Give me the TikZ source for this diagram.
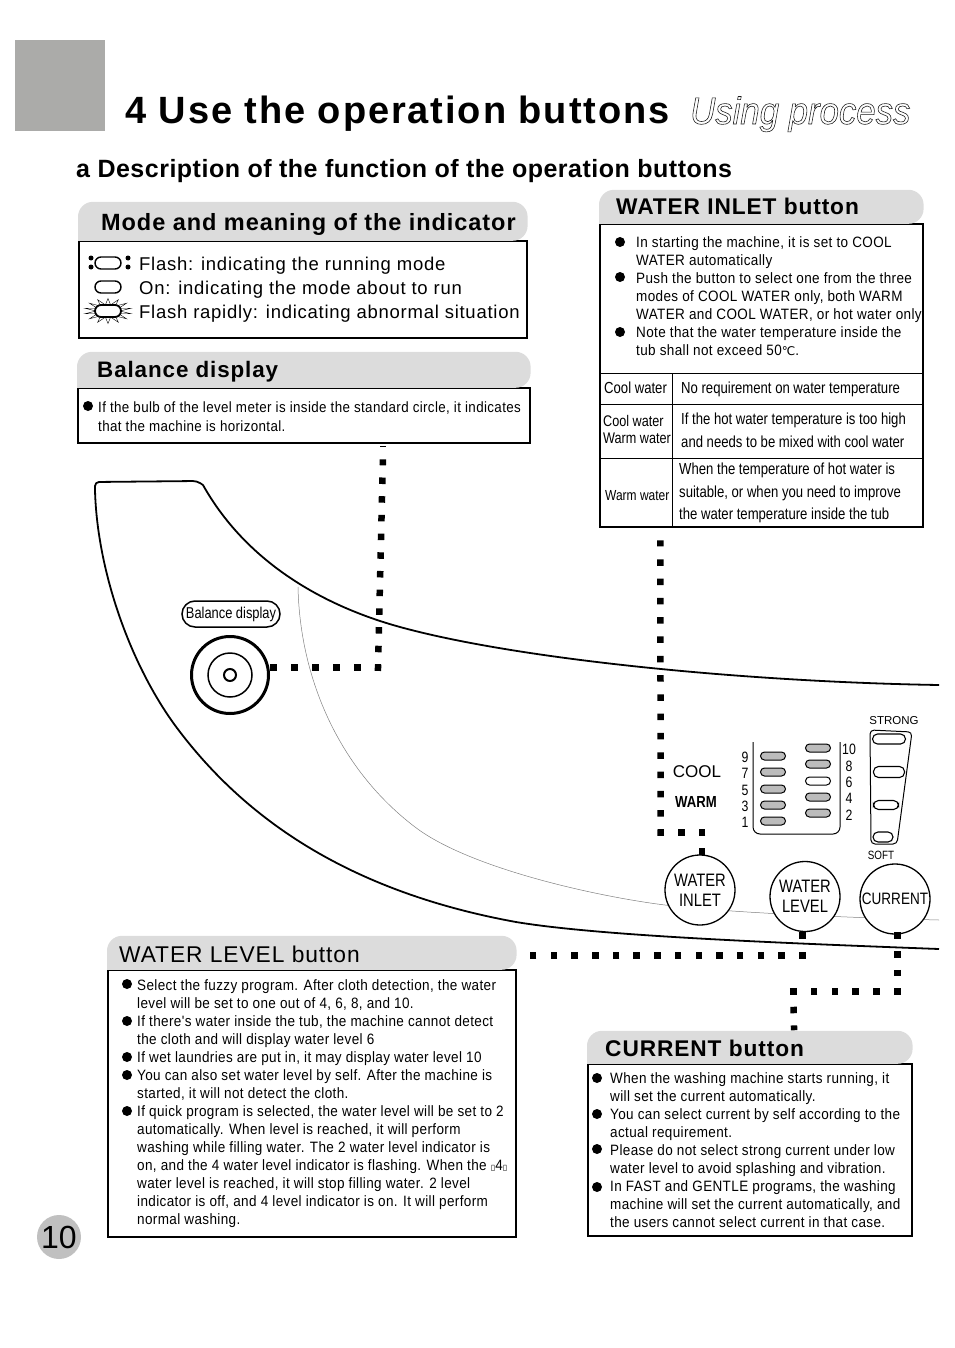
\documentclass[tikz,border=0pt]{standalone}
\usepackage{fontspec}
\setmainfont{Liberation Sans}
\newfontfamily\widefont[LetterSpace=4]{Liberation Sans}
\newfontfamily\titlefont[LetterSpace=5]{Liberation Sans}
\newfontfamily\subfont[LetterSpace=2]{Liberation Sans}
\newfontfamily\bodyfont[FakeStretch=0.9,LetterSpace=2.5]{Liberation Sans}
\newfontfamily\narrowfont[FakeStretch=0.82]{Liberation Sans}
\newfontfamily\ghostfont[FakeStretch=0.915,FakeBold=1.5]{Liberation Sans}
\newfontfamily\symfont{DejaVu Sans}
\usetikzlibrary{positioning,calc,shapes.geometric}
\definecolor{tabgray}{RGB}{220,220,220}
\definecolor{markgray}{RGB}{171,171,169}
\definecolor{pagegray}{RGB}{192,192,192}
\definecolor{pillgray}{RGB}{188,188,188}

\begin{document}
\begin{tikzpicture}[
  x=1pt, y=-1pt,
  panel/.style={draw, line width=1.6pt, anchor=north west, inner sep=0pt},
  txt/.style={inner sep=0pt, anchor=north west, align=left},
  headtxt/.style={inner sep=0pt, anchor=base west, font=\widefont\bfseries\fontsize{22.7}{26}\selectfont},
  bodytxt/.style={txt, font=\bodyfont\fontsize{15}{18.05}\selectfont},
  celltxt/.style={txt, font=\narrowfont\fontsize{16}{22.4}\selectfont},
  dotlink/.style={line width=6.5pt, dash pattern=on 6.5pt off #1pt, shorten <=-3.25pt, shorten >=-3.25pt},
  btn/.style={draw, circle, line width=1.3pt, fill=white, minimum size=70pt, inner sep=0pt, align=center, font=\narrowfont\fontsize{18}{20}\selectfont},
  pill/.style={draw, rounded corners=4pt, line width=1pt, minimum width=25pt, minimum height=8pt, inner sep=0pt, fill=pillgray},
  whitepill/.style={pill, rounded corners=5pt, line width=1.1pt, fill=white},
  numtxt/.style={inner sep=0pt, font=\narrowfont\fontsize{15}{15}\selectfont},
  edgeline/.style={line width=1.8pt, line join=round}
]
\useasboundingbox (0,0) rectangle (954,1348);

% page head
\fill[markgray] (15,40) rectangle (105,131);
\node[headtxt, font=\titlefont\bfseries\fontsize{38}{40}\selectfont] (title) at (125,124) {4 Use the operation buttons};
\node[inner sep=0pt, anchor=base west, font=\ghostfont\itshape\fontsize{38}{40}\selectfont] (ghost) at (690,124)
  {\special{pdf:bc [1] [0.1]}Using process\special{pdf:ec}};
\node[headtxt, font=\subfont\bfseries\fontsize{25}{28}\selectfont] (subtitle) at (76,178) {a Description of the function of the operation buttons};
\node[circle, fill=pagegray, minimum size=44pt, inner sep=0pt, font=\fontsize{32}{32}\selectfont] (pageno) at (59,1237) {10};

% panel outline and thin tub line
\draw[gray, line width=0.5pt] (298,587) .. controls (300,680) and (340,770) .. (415,827) .. controls (470,869) and (600,897) .. (665,905) .. controls (730,913) and (860,918) .. (939,920);
\draw[edgeline] (939,949) .. controls (780,943) and (600,936) .. (516,922) .. controls (340,890) and (240,812) .. (177,728) .. controls (130,665) and (97,570) .. (95,490)
  [rounded corners=4pt] -- (95,482) -- (197,481) [sharp corners] -- (203,485)
  .. controls (245,560) and (320,605) .. (400,627) .. controls (520,660) and (750,682) .. (939,685);

% boxes
\node[panel, minimum width=448pt, minimum height=97pt] (modebox) at (78,240) {};
\node[panel, minimum width=452pt, minimum height=55pt] (balbox) at (77,387) {};
\node[panel, minimum width=323pt, minimum height=303pt] (inletbox) at (599,223) {};
\node[panel, minimum width=408pt, minimum height=267pt] (levelbox) at (107,969) {};
\node[panel, minimum width=324pt, minimum height=172pt] (currentbox) at (587,1063) {};

\foreach \boxname/\tabh in {modebox/39, balbox/36, inletbox/34, levelbox/34, currentbox/33}
  \fill[tabgray] ([yshift=-0.8pt]\boxname.north west) [rounded corners=15pt] -- ++(0,-\tabh) -| ([yshift=-0.8pt]\boxname.north east) [sharp corners] -- cycle;

\node[headtxt, font=\widefont\bfseries\fontsize{23.5}{26}\selectfont] (modehead) at (101,231) {Mode and meaning of the indicator};
\node[headtxt, font=\widefont\bfseries\fontsize{22.4}{26}\selectfont] (balhead) at (97,377) {Balance display};
\node[headtxt] (inlethead) at (616,215) {WATER INLET button};
\node[headtxt, font=\widefont\fontsize{22.8}{26}\selectfont] (levelhead) at (119,962) {WATER LEVEL button};
\node[headtxt] (currenthead) at (605,1056) {CURRENT button};

% indicator legend
\node[txt, font=\widefont\fontsize{18.5}{24}\selectfont] (modetext) at (139,257) {Flash: indicating the running mode\\On: indicating the mode about to run\\Flash rapidly: indicating abnormal situation};
\node[pill, fill=white, minimum width=26pt, minimum height=12pt, rounded corners=6pt, line width=1.4pt] (flashpill) at (108,263) {};
\foreach \px/\py in {91/258, 91/267, 128/258, 128/267}
  \fill (\px,\py) circle (2.5);
\node[pill, fill=white, minimum width=26pt, minimum height=12pt, rounded corners=6pt, line width=1.4pt] (onpill) at (108,287) {};
\node[star, star points=14, star point ratio=2, draw, line width=0.4pt, minimum size=25pt, xscale=1.9, inner sep=0pt] (burst) at (108,311) {};
\node[pill, fill=white, minimum width=26pt, minimum height=12pt, rounded corners=6pt, line width=1.8pt] (rapidpill) at (108,311) {};

% texts in the boxes
\node[bodytxt, font=\bodyfont\fontsize{14.85}{18.05}\selectfont] (baltext) at (98,402) {If the bulb of the level meter is inside the standard circle, it indicates\\that the machine is horizontal.};
\node[bodytxt] (inlettext) at (636,236) {In starting the machine, it is set to COOL\\WATER automatically\\Push the button to select one from the three\\modes of COOL WATER only, both WARM\\WATER and COOL WATER, or hot water only.\\Note that the water temperature inside the\\tub shall not exceed 50{\symfont\fontsize{12}{12}\selectfont ℃}.};
\node[bodytxt] (leveltext) at (137,979) {Select the fuzzy program. After cloth detection, the water\\level will be set to one out of 4, 6, 8, and 10.\\If there's water inside the tub, the machine cannot detect\\the cloth and will display water level 6\\If wet laundries are put in, it may display water level 10\\You can also set water level by self. After the machine is\\started, it will not detect the cloth.\\If quick program is selected, the water level will be set to 2\\automatically. When  level is reached, it will perform\\washing while filling water. The 2 water level indicator is\\on, and the 4 water level indicator is flashing. When the {\symfont\fontsize{8}{8}\selectfont ▯}4{\symfont\fontsize{8}{8}\selectfont ▯}\\water level is reached, it will stop filling water. 2 level\\indicator is off, and 4 level indicator is on. It will perform\\normal washing.};
\node[bodytxt] (currenttext) at (610,1072) {When the washing machine starts running, it\\will set the current automatically.\\You can select current by self according to the\\actual requirement.\\Please do not select strong current under low\\water level to avoid splashing and vibration.\\In FAST and GENTLE programs, the washing\\machine will set the current automatically, and\\the users cannot select current in that case.};

\foreach \by in {242,277,332}
  \fill (620,\by) circle (5);
\fill (88,406) circle (5);
\foreach \by in {984,1021,1057,1075,1111}
  \fill (127,\by) circle (5);
\foreach \by in {1078,1114,1149,1187}
  \fill (597,\by) circle (5);

% inlet table
\foreach \ty in {373,404,458}
  \draw[line width=0.8pt] (600,\ty) -- (923,\ty);
\draw[line width=0.8pt] (672,373) -- (672,527);
\node[celltxt] (cellaa) at (604,382) {Cool water};
\node[celltxt] (cellab) at (681,382) {No requirement on water temperature};
\node[celltxt, font=\narrowfont\fontsize{15.4}{17.5}\selectfont] (cellba) at (603,415) {Cool water\\Warm water};
\node[celltxt] (cellbb) at (681,413) {If the hot water temperature is too high\\and needs to be mixed with cool water};
\node[celltxt, font=\narrowfont\fontsize{14.6}{17}\selectfont] (cellca) at (605,490) {Warm water};
\node[celltxt] (cellcb) at (679,463) {When the temperature of hot water is\\suitable, or when you need to improve\\the water temperature inside the tub};

% balance display on the panel
\node[draw, rounded corners=13pt, line width=1.5pt, minimum width=98pt, minimum height=26pt, inner sep=0pt, font=\narrowfont\fontsize{15.7}{16}\selectfont] (ballabel) at (231,614) {Balance display};
\node[draw, circle, line width=3pt, minimum size=77pt, inner sep=0pt] (baldial) at (230,675) {};
\node[draw, circle, line width=1.5pt, minimum size=44pt, inner sep=0pt] (balring) at (230,675) {};
\node[draw, circle, line width=2pt, minimum size=12pt, inner sep=0pt] (balcore) at (230,675) {};

% control pad
\node[inner sep=0pt, font=\fontsize{17}{17}\selectfont] (cool) at (697,772) {COOL};
\node[inner sep=0pt, font=\narrowfont\bfseries\fontsize{16}{17}\selectfont] (warm) at (696,802) {WARM};
\draw[line width=1pt] (753,742) -- (753,827) [rounded corners=7pt] -- (753,834) -- (840,834) [sharp corners] -- (840,742);
\foreach \lv/\ly in {9/756, 7/772, 5/789, 3/805, 1/821} {
  \node[pill] (lv\lv) at (773,\ly) {};
  \node[numtxt] (num\lv) at (745,\ly+1) {\lv};
}
\foreach \lv/\ly in {10/748, 8/764, 4/797, 2/813}
  \node[pill] (lv\lv) at (818,\ly) {};
\node[pill, fill=white] (lv6) at (818,781) {};
\foreach \lv/\lx/\ly in {10/849/749, 8/849/766, 6/849/782, 4/849/798, 2/849/815}
  \node[numtxt] (num\lv) at (\lx,\ly) {\lv};

\node[inner sep=0pt, font=\fontsize{11.5}{12}\selectfont] (strong) at (894,721) {STRONG};
\node[inner sep=0pt, font=\narrowfont\fontsize{12}{12}\selectfont] (soft) at (881,855) {SOFT};
\draw[line width=1pt, rounded corners=4pt] (870,730) -- (912,732) -- (897,844) -- (871,844) -- cycle;
\node[whitepill, minimum width=33pt, minimum height=10pt] (curra) at (889,739) {};
\node[whitepill, minimum width=31pt, minimum height=11pt] (currb) at (889,772) {};
\node[whitepill, minimum width=25pt, minimum height=9pt] (currc) at (886,805) {};
\node[whitepill, minimum width=20pt, minimum height=10pt] (currd) at (883,837) {};

% buttons
\node[btn] (inletbtn) at (700,890) {WATER\\INLET};
\node[btn] (levelbtn) at (805,896.5) {WATER\\LEVEL};
\node[btn, font=\narrowfont\fontsize{16.5}{18}\selectfont] (currentbtn) at (895,899) {CURRENT};

% dotted leaders
\fill (379.5,445.5) rectangle (385.5,447);
\draw[dotlink=14.5] ([shift={(3.7,-7.3)}]baldial.east) -- (378,667.7);
\draw[dotlink=12.2] (378,667.7) -- ([shift={(79,19)}]balbox.south);
\draw[dotlink=13.2] ([shift={(2,-3)}]inletbtn.north) -- (702,832.7);
\draw[dotlink=14.1] (702,832.7) -- (660.7,832.7);
\draw[dotlink=12.8] (660.7,832.7) -- ([shift={(-101,16)}]inletbox.south);
\draw[dotlink=14.2] ([shift={(-2.7,3.5)}]levelbtn.south) -- (802.3,955.7);
\draw[dotlink=14.2] (802.3,955.7) -- ([shift={(17,-13.3)}]levelbox.north east);
\draw[dotlink=12.2] ([shift={(2.3,1)}]currentbtn.south) -- (897.3,991.3);
\draw[dotlink=14.3] (897.3,991.3) -- (793.3,991.3);
\draw[dotlink=12.2] (793.3,991.3) -- ([shift={(207,-36)}]currentbox.north west);
\end{tikzpicture}
\end{document}
